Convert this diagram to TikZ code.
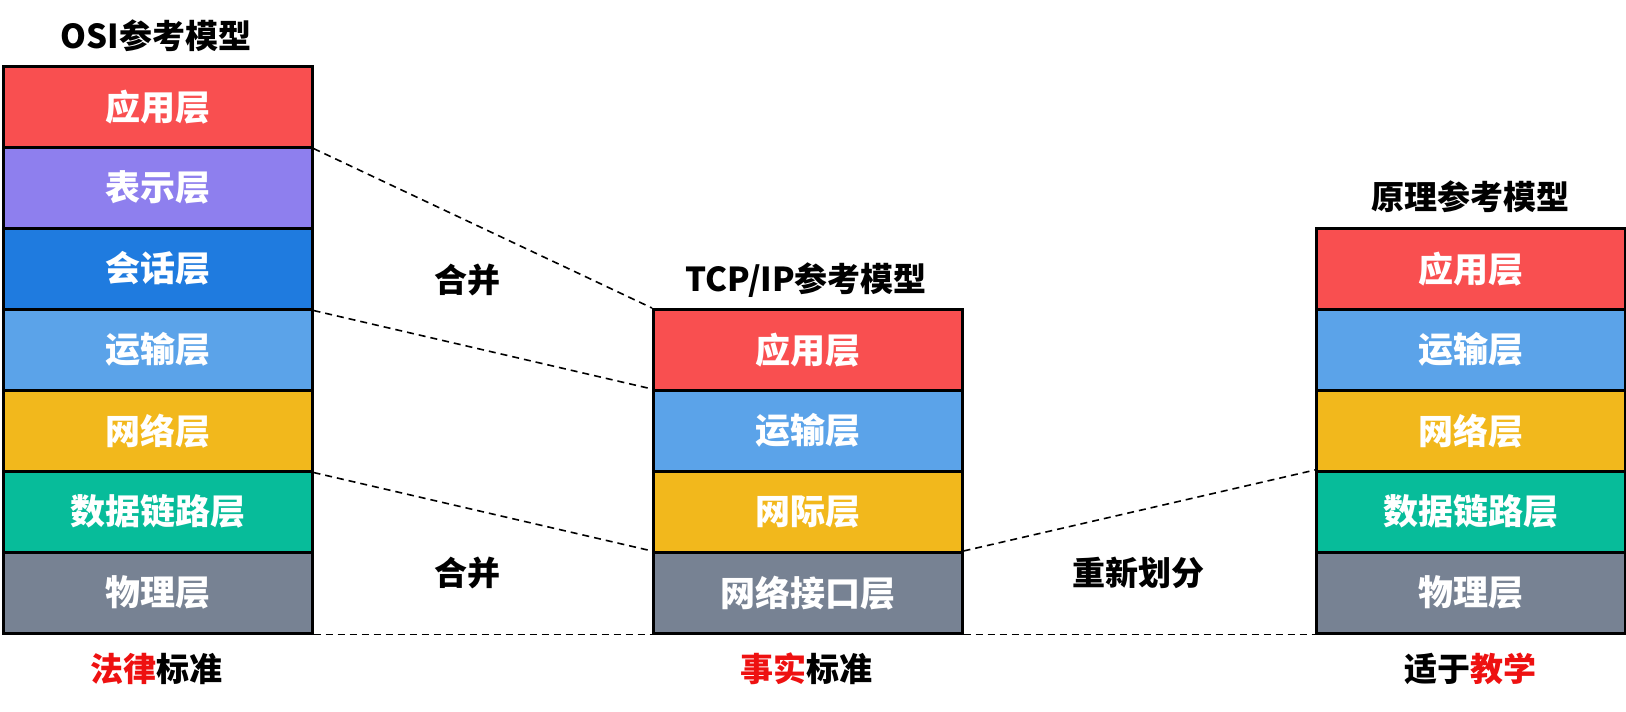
\documentclass[tikz,border=0pt]{standalone}
\usepackage{fontspec}
\setmainfont{Noto Sans CJK SC}[BoldFont={* Black}]
\definecolor{cRed}{HTML}{F94F50}
\definecolor{cPurple}{HTML}{8E7FEE}
\definecolor{cBlue}{HTML}{1F7BDF}
\definecolor{cLight}{HTML}{5BA3E9}
\definecolor{cYellow}{HTML}{F2B81C}
\definecolor{cTeal}{HTML}{07BC9A}
\definecolor{cGray}{HTML}{778293}
\definecolor{cText}{HTML}{EE1111}
\begin{document}
\begin{tikzpicture}[x=1pt,y=-1pt,
  layerbox/.style={draw=black,line width=2.5pt,minimum width=309pt,minimum height=81pt,
    inner sep=0pt,anchor=north west,text=white,font=\fontsize{35}{40}\selectfont\bfseries},
  titletext/.style={font=\fontsize{33}{38}\selectfont\bfseries,text=black},
  midtext/.style={font=\fontsize{33}{38}\selectfont\bfseries,text=black},
  link/.style={dash pattern=on 7pt off 5pt,line width=1.6pt,black}]
\useasboundingbox (0,0) rectangle (1626,712);
% left stack
\node[layerbox,fill=cRed]    (L1) at (2,65)  {应用层};
\node[layerbox,fill=cPurple] (L2) at (2,146) {表示层};
\node[layerbox,fill=cBlue]   (L3) at (2,227) {会话层};
\node[layerbox,fill=cLight]  (L4) at (2,308) {运输层};
\node[layerbox,fill=cYellow] (L5) at (2,389) {网络层};
\node[layerbox,fill=cTeal]   (L6) at (2,470) {数据链路层};
\node[layerbox,fill=cGray]   (L7) at (2,551) {物理层};
% middle stack
\node[layerbox,fill=cRed]    (M1) at (652,308) {应用层};
\node[layerbox,fill=cLight]  (M2) at (652,389) {运输层};
\node[layerbox,fill=cYellow] (M3) at (652,470) {网际层};
\node[layerbox,fill=cGray]   (M4) at (652,551) {网络接口层};
% right stack
\node[layerbox,fill=cRed]    (R1) at (1315,227) {应用层};
\node[layerbox,fill=cLight]  (R2) at (1315,308) {运输层};
\node[layerbox,fill=cYellow] (R3) at (1315,389) {网络层};
\node[layerbox,fill=cTeal]   (R4) at (1315,470) {数据链路层};
\node[layerbox,fill=cGray]   (R5) at (1315,551) {物理层};
% titles
\node[titletext] (T1) at (156,36)  {OSI参考模型};
\node[titletext] (T2) at (806,280) {TCP/IP参考模型};
\node[titletext] (T3) at (1470,197) {原理参考模型};
% bottom labels
\node[titletext] (B1) at (156,669)  {{\color{cText}法律}标准};
\node[titletext] (B2) at (806,669)  {{\color{cText}事实}标准};
\node[titletext] (B3) at (1470,669) {适于{\color{cText}教学}};
% middle labels
\node[midtext] (H1) at (467,280) {合并};
\node[midtext] (H2) at (467,573) {合并};
\node[midtext] (H3) at (1138,573) {重新划分};
% connectors
\draw[link] (L1.south east) -- (M1.north west);
\draw[link] (L3.south east) -- (M2.north west);
\draw[link] (L5.south east) -- (M4.north west);
\draw[link] (L7.south east) -- (M4.south west);
\draw[link] (M4.north east) -- (R4.north west);
\draw[link] (M4.south east) -- (R5.south west);
\end{tikzpicture}
\end{document}
